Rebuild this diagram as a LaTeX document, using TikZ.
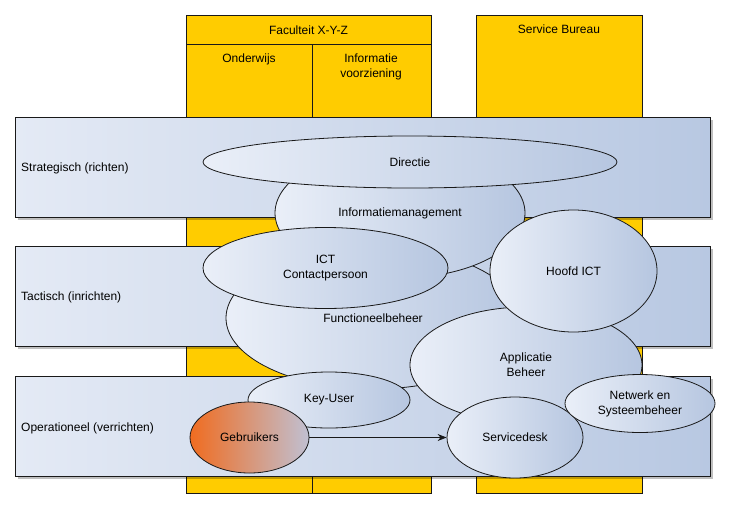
\documentclass[tikz,border=0pt]{standalone}
\usepackage{fontspec}
\setmainfont{Liberation Sans}
\usetikzlibrary{shapes.geometric,arrows.meta,shadows}
\definecolor{yel}{RGB}{255,204,0}
\definecolor{bandL}{RGB}{228,234,245}
\definecolor{bandR}{RGB}{184,200,226}
\definecolor{ellL}{RGB}{234,239,248}
\definecolor{ellR}{RGB}{182,198,224}
\definecolor{orng}{RGB}{240,108,32}
\definecolor{orngR}{RGB}{192,192,210}
\definecolor{edge}{RGB}{25,25,25}
\begin{document}
\begin{tikzpicture}[x=1pt,y=-1pt,font=\fontsize{12}{15}\selectfont,
  col/.style={fill=yel,draw=edge,line width=0.8pt},
  band/.style={draw=edge,line width=0.8pt,left color=bandL,right color=bandR,
    drop shadow={shadow xshift=3pt,shadow yshift=-3pt,opacity=0.25,fill=black}},
  oval/.style={ellipse,draw=edge,line width=0.8pt,left color=ellL,right color=ellR,
    inner sep=0pt,align=center},
  lbl/.style={anchor=west,inner sep=0pt},
  txt/.style={inner sep=0pt,align=center}]
\useasboundingbox (0,0) rectangle (730,509);
% columns
\draw[col] (186,15) rectangle (431,493);
\draw[edge,line width=0.8pt] (186,44) -- (431,44);
\draw[edge,line width=0.8pt] (312,44) -- (312,493);
\draw[col] (476,15) rectangle (642,493);
\node[txt] (fac) at (308.5,30.5) {Faculteit X-Y-Z};
\node[txt] (ond) at (249,59) {Onderwijs};
\node[txt] (inf) at (371,66.5) {Informatie\\voorziening};
\node[txt] (sb) at (559,29.5) {Service Bureau};
% bands
\path[band] (15,117) rectangle (710,217);
\path[band] (15,246) rectangle (710,346);
\path[band] (15,376) rectangle (710,476);
\node[lbl] (strat) at (21,168.5) {Strategisch (richten)};
\node[lbl] (tact) at (21,297.5) {Tactisch (inrichten)};
\node[lbl] (oper) at (21,428.5) {Operationeel (verrichten)};
% ellipses
\node[oval,minimum width=294pt,minimum height=142pt] (func) at (373,318) {Functioneelbeheer};
\node[oval,minimum width=250pt,minimum height=130pt] (im) at (400,213) {Informatiemanagement};
\node[oval,minimum width=414pt,minimum height=52pt] (dir) at (410,162) {Directie};
\node[oval,minimum width=245pt,minimum height=81pt] (ict) at (325.5,268) {ICT\\Contactpersoon};
\node[oval,minimum width=232pt,minimum height=116pt] (app) at (526,365) {Applicatie\\Beheer};
\node[oval,minimum width=167pt,minimum height=122pt] (hoofd) at (573.5,271) {Hoofd ICT};
\node[oval,minimum width=162pt,minimum height=56pt] (ku) at (329,400) {Key-User};
\node[oval,minimum width=119pt,minimum height=71pt,left color=orng,right color=orngR] (geb) at (249.5,437.5) {Gebruikers};
\node[oval,minimum width=136pt,minimum height=81pt] (sd) at (515,437.5) {Servicedesk};
\node[oval,minimum width=150pt,minimum height=58pt] (net) at (640,403.5) {Netwerk en\\Systeembeheer};
% arrow
\draw[edge,line width=0.8pt,-{Stealth[length=9pt,width=7pt]}] (geb.east) -- (sd.west);
\end{tikzpicture}
\end{document}
